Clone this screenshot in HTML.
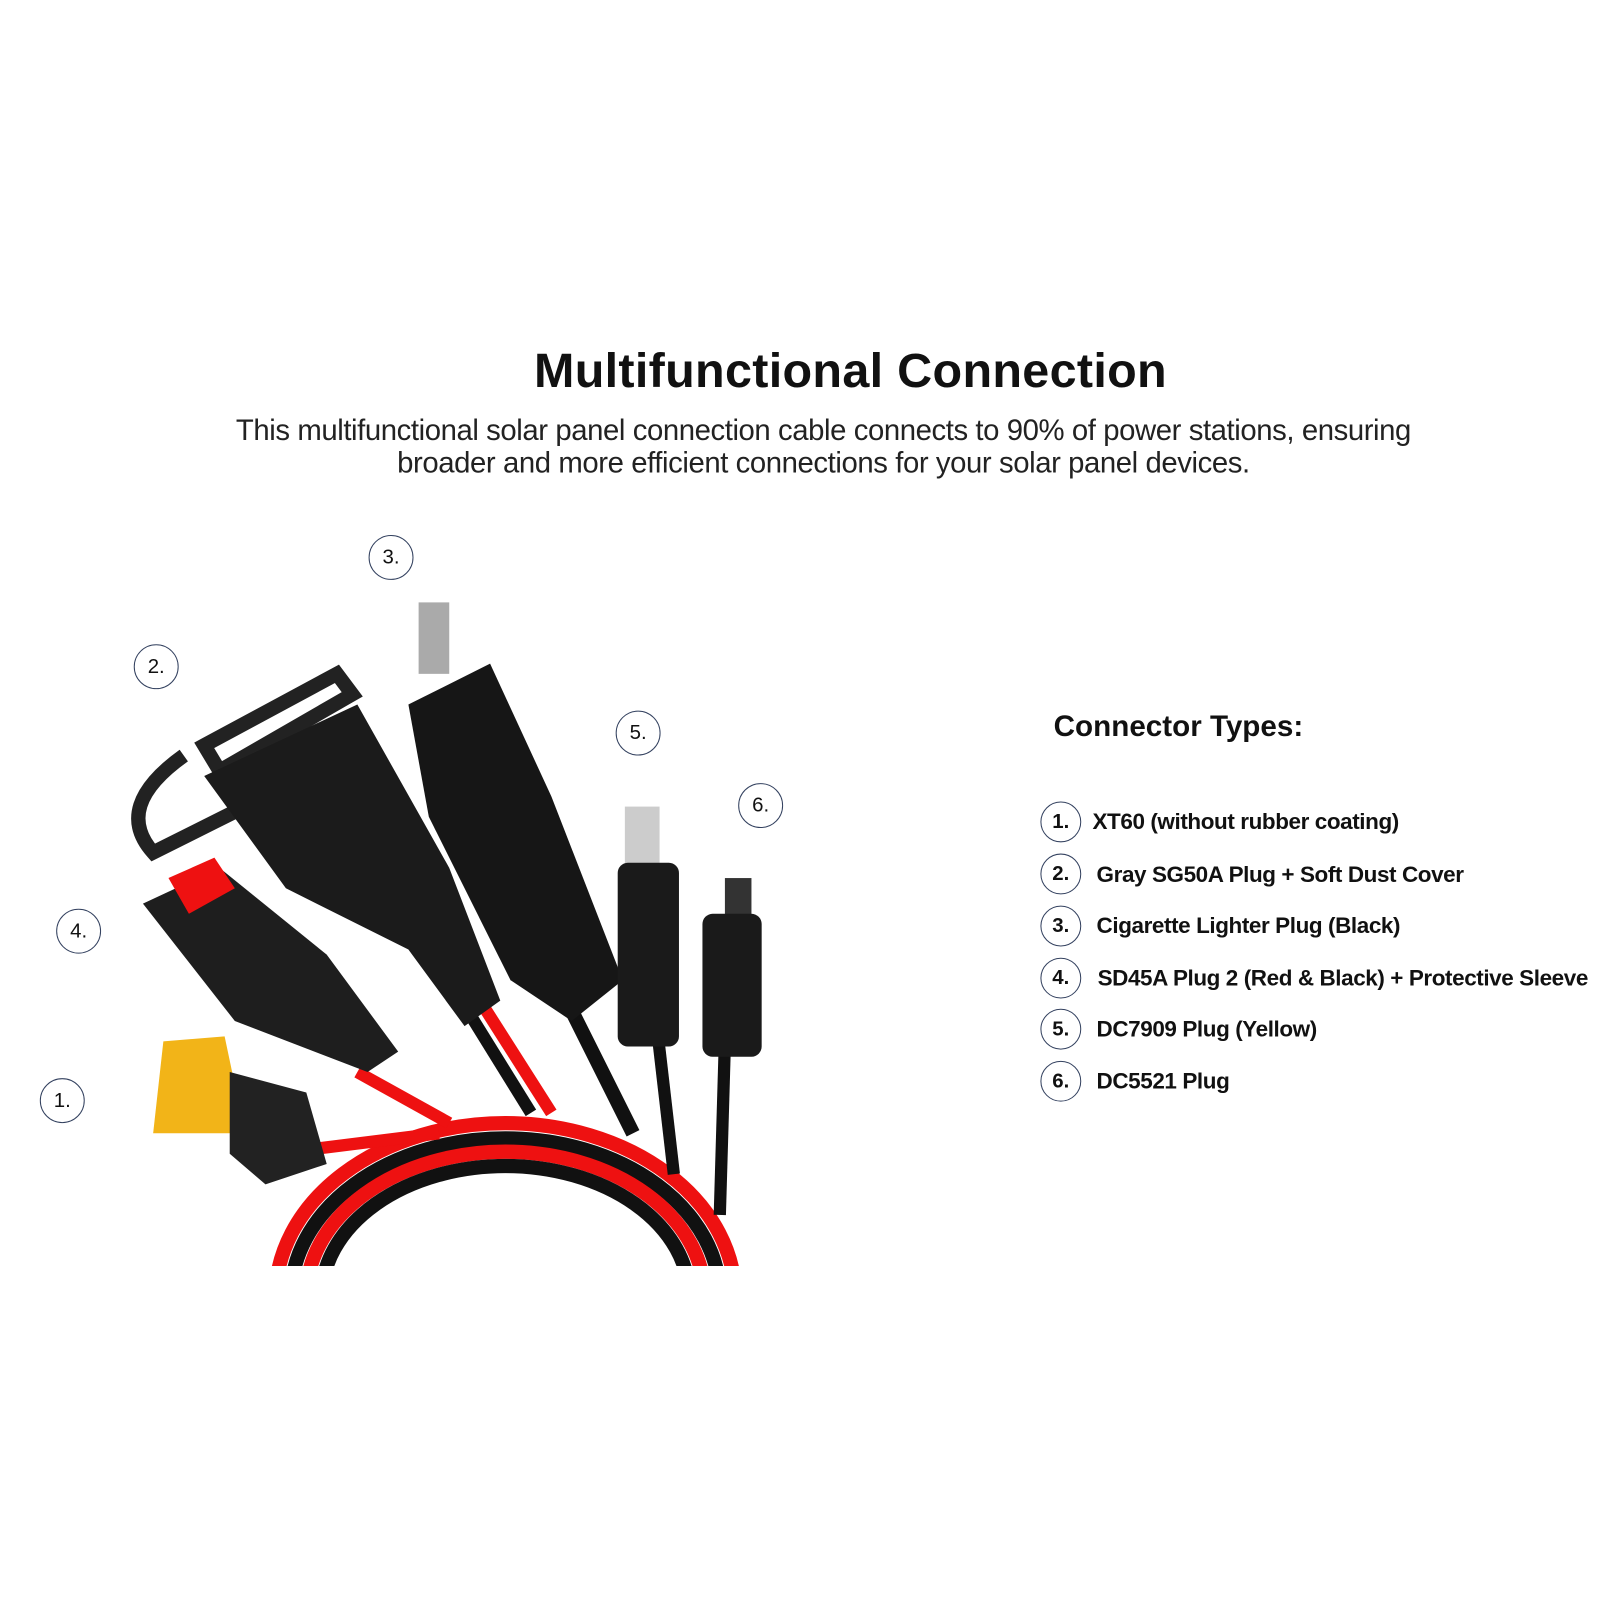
<!DOCTYPE html>
<html><head><meta charset="utf-8"><style>
body{margin:0;width:1600px;height:1600px;background:#fff;position:relative;overflow:hidden;font-family:"Liberation Sans",sans-serif;color:#111}
#w{position:absolute;left:0;top:0;width:1560px;height:1560px;transform:scale(1.021);transform-origin:0 0}
h1{position:absolute;top:336px;left:0;width:1666px;text-align:center;margin:0;font-size:47.5px;font-weight:bold;letter-spacing:0.3px}
.sub{position:absolute;top:406px;left:0;width:1613px;text-align:center;font-size:28.7px;line-height:32px;color:#222;letter-spacing:-0.4px;white-space:nowrap}
.ct{position:absolute;left:1032px;top:696px;font-size:29px;font-weight:bold}
.c{position:absolute;width:40px;height:40px;border:1.5px solid #33415f;border-radius:50%;box-sizing:border-box;text-align:center;line-height:38px;font-size:20px;font-weight:bold}
.it{position:absolute;font-size:22px;font-weight:bold;letter-spacing:-0.4px;white-space:nowrap}
.b{font-weight:normal}
</style></head><body><div id="w">
<h1>Multifunctional Connection</h1>
<div class="sub">This multifunctional solar panel connection cable connects to 90% of power stations, ensuring<br>broader and more efficient connections for your solar panel devices.</div>
<div class="ct">Connector Types:</div>
<div class="c" style="left:1019px;top:785px">1.</div><div class="it" style="left:1070px;top:792px">XT60 (without rubber coating)</div>
<div class="c" style="left:1019px;top:836px">2.</div><div class="it" style="left:1074px;top:844px">Gray SG50A Plug + Soft Dust Cover</div>
<div class="c" style="left:1019px;top:887px">3.</div><div class="it" style="left:1074px;top:894px">Cigarette Lighter Plug (Black)</div>
<div class="c" style="left:1019px;top:938px">4.</div><div class="it" style="left:1075px;top:945px">SD45A Plug 2 (Red &amp; Black) + Protective Sleeve</div>
<div class="c" style="left:1019px;top:988px">5.</div><div class="it" style="left:1074px;top:995px">DC7909 Plug (Yellow)</div>
<div class="c" style="left:1019px;top:1039px">6.</div><div class="it" style="left:1074px;top:1046px">DC5521 Plug</div>

<div class="c b" style="left:361px;top:524px;width:44px;height:44px;line-height:42px">3.</div>
<div class="c b" style="left:131px;top:631px;width:44px;height:44px;line-height:42px">2.</div>
<div class="c b" style="left:603px;top:696px;width:44px;height:44px;line-height:42px">5.</div>
<div class="c b" style="left:723px;top:767px;width:44px;height:44px;line-height:42px">6.</div>
<div class="c b" style="left:55px;top:890px;width:44px;height:44px;line-height:42px">4.</div>
<div class="c b" style="left:39px;top:1056px;width:44px;height:44px;line-height:42px">1.</div>

<svg style="position:absolute;left:0;top:0" width="1560" height="1560">
<defs><clipPath id="cl"><rect x="0" y="0" width="1600" height="1240"/></clipPath></defs>
<g clip-path="url(#cl)" fill="none">
<ellipse cx="495" cy="1270" rx="225" ry="170" stroke="#e11" stroke-width="14"/>
<ellipse cx="495" cy="1270" rx="210" ry="155" stroke="#111" stroke-width="14"/>
<ellipse cx="495" cy="1270" rx="195" ry="142" stroke="#e11" stroke-width="14"/>
<ellipse cx="495" cy="1270" rx="180" ry="128" stroke="#111" stroke-width="14"/>
<path d="M270 1130 L430 1110" stroke="#e11" stroke-width="12"/>
<path d="M350 1050 L440 1100" stroke="#e11" stroke-width="12"/>
<path d="M470 980 L540 1090" stroke="#e11" stroke-width="12"/>
<path d="M455 985 L520 1090" stroke="#111" stroke-width="12"/>
<path d="M560 990 L620 1110" stroke="#111" stroke-width="14"/>
<path d="M645 1020 L660 1150" stroke="#111" stroke-width="12"/>
<path d="M710 1020 L705 1190" stroke="#111" stroke-width="12"/>
</g>
<path d="M200 730 L330 660 L345 680 L215 755 Z M180 740 Q110 790 150 835 L230 795" fill="none" stroke="#222" stroke-width="14"/>
<path d="M200 760 L350 690 L440 850 L490 980 L455 1005 L400 930 L280 870 Z" fill="#1b1b1b"/>
<path d="M400 690 L480 650 L540 780 L610 960 L560 1000 L500 960 L420 800 Z" fill="#161616"/>
<rect x="410" y="590" width="30" height="70" fill="#aaa"/>
<path d="M140 885 L215 850 L320 935 L390 1030 L360 1050 L230 1000 Z" fill="#1e1e1e"/>
<path d="M165 860 L210 840 L230 870 L185 895 Z" fill="#e11"/>
<path d="M160 1020 L220 1015 L240 1110 L150 1110 Z" fill="#f2b418"/>
<path d="M225 1050 L300 1070 L320 1140 L260 1160 L225 1130 Z" fill="#222"/>
<rect x="612" y="790" width="34" height="60" fill="#ccc"/>
<rect x="605" y="845" width="60" height="180" rx="10" fill="#1a1a1a"/>
<rect x="710" y="860" width="26" height="40" fill="#333"/>
<rect x="688" y="895" width="58" height="140" rx="10" fill="#1a1a1a"/>
</svg>
</div></body></html>
